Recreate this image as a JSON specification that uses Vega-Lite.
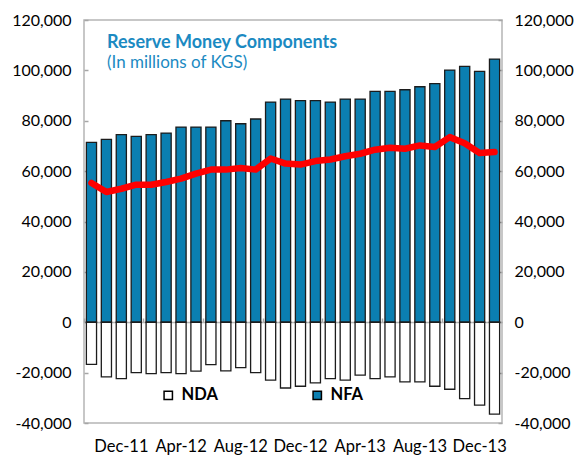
{
  "$schema": "https://vega.github.io/schema/vega-lite/v6.json",
  "width": 418,
  "height": 403,
  "autosize": {"type": "none"},
  "padding": {"left": 84, "top": 20, "right": 75, "bottom": 34},
  "background": "#ffffff",
  "config": {
    "font": "Lato",
    "view": {"stroke": "#b5b5b5", "strokeWidth": 1.5},
    "axis": {"labelFont": "Lato", "labelFontSize": 16, "labelColor": "#000000", "grid": false, "title": null}
  },
  "title": {
    "text": "Reserve Money Components",
    "subtitle": "(In millions of KGS)",
    "anchor": "start",
    "frame": "group",
    "orient": "top",
    "offset": -59,
    "dx": 23,
    "font": "Lato",
    "fontSize": 18,
    "fontWeight": "bold",
    "color": "#1b8ac2",
    "subtitleFont": "Lato",
    "subtitleFontSize": 17,
    "subtitleColor": "#1b8ac2",
    "subtitlePadding": 3
  },
  "datasets": {
    "bars": [
      {"month": "Dec-11", "series": "NFA", "value": 71400},
      {"month": "Jan-12", "series": "NFA", "value": 72600},
      {"month": "Feb-12", "series": "NFA", "value": 74500},
      {"month": "Mar-12", "series": "NFA", "value": 73800},
      {"month": "Apr-12", "series": "NFA", "value": 74500},
      {"month": "May-12", "series": "NFA", "value": 75100},
      {"month": "Jun-12", "series": "NFA", "value": 77500},
      {"month": "Jul-12", "series": "NFA", "value": 77500},
      {"month": "Aug-12", "series": "NFA", "value": 77500},
      {"month": "Sep-12", "series": "NFA", "value": 80000},
      {"month": "Oct-12", "series": "NFA", "value": 78800},
      {"month": "Nov-12", "series": "NFA", "value": 80700},
      {"month": "Dec-12", "series": "NFA", "value": 87400},
      {"month": "Jan-13", "series": "NFA", "value": 88600},
      {"month": "Feb-13", "series": "NFA", "value": 88000},
      {"month": "Mar-13", "series": "NFA", "value": 88000},
      {"month": "Apr-13", "series": "NFA", "value": 87400},
      {"month": "May-13", "series": "NFA", "value": 88600},
      {"month": "Jun-13", "series": "NFA", "value": 88600},
      {"month": "Jul-13", "series": "NFA", "value": 91700},
      {"month": "Aug-13", "series": "NFA", "value": 91700},
      {"month": "Sep-13", "series": "NFA", "value": 92300},
      {"month": "Oct-13", "series": "NFA", "value": 93500},
      {"month": "Nov-13", "series": "NFA", "value": 94700},
      {"month": "Dec-13", "series": "NFA", "value": 100100},
      {"month": "Jan-14", "series": "NFA", "value": 101600},
      {"month": "Feb-14", "series": "NFA", "value": 99600},
      {"month": "Mar-14", "series": "NFA", "value": 104500},
      {"month": "Dec-11", "series": "NDA", "value": -16700},
      {"month": "Jan-12", "series": "NDA", "value": -21700},
      {"month": "Feb-12", "series": "NDA", "value": -22400},
      {"month": "Mar-12", "series": "NDA", "value": -20000},
      {"month": "Apr-12", "series": "NDA", "value": -20400},
      {"month": "May-12", "series": "NDA", "value": -20000},
      {"month": "Jun-12", "series": "NDA", "value": -20400},
      {"month": "Jul-12", "series": "NDA", "value": -19400},
      {"month": "Aug-12", "series": "NDA", "value": -16800},
      {"month": "Sep-12", "series": "NDA", "value": -19300},
      {"month": "Oct-12", "series": "NDA", "value": -18000},
      {"month": "Nov-12", "series": "NDA", "value": -20000},
      {"month": "Dec-12", "series": "NDA", "value": -23000},
      {"month": "Jan-13", "series": "NDA", "value": -26100},
      {"month": "Feb-13", "series": "NDA", "value": -25400},
      {"month": "Mar-13", "series": "NDA", "value": -24100},
      {"month": "Apr-13", "series": "NDA", "value": -22400},
      {"month": "May-13", "series": "NDA", "value": -23000},
      {"month": "Jun-13", "series": "NDA", "value": -21000},
      {"month": "Jul-13", "series": "NDA", "value": -22400},
      {"month": "Aug-13", "series": "NDA", "value": -21700},
      {"month": "Sep-13", "series": "NDA", "value": -23700},
      {"month": "Oct-13", "series": "NDA", "value": -23700},
      {"month": "Nov-13", "series": "NDA", "value": -25400},
      {"month": "Dec-13", "series": "NDA", "value": -26600},
      {"month": "Jan-14", "series": "NDA", "value": -30300},
      {"month": "Feb-14", "series": "NDA", "value": -32900},
      {"month": "Mar-14", "series": "NDA", "value": -36500}
    ],
    "rm": [
      {"month": "Dec-11", "rm": 55300},
      {"month": "Jan-12", "rm": 51700},
      {"month": "Feb-12", "rm": 53000},
      {"month": "Mar-12", "rm": 54600},
      {"month": "Apr-12", "rm": 54600},
      {"month": "May-12", "rm": 55700},
      {"month": "Jun-12", "rm": 57000},
      {"month": "Jul-12", "rm": 59000},
      {"month": "Aug-12", "rm": 60600},
      {"month": "Sep-12", "rm": 60600},
      {"month": "Oct-12", "rm": 61200},
      {"month": "Nov-12", "rm": 60600},
      {"month": "Dec-12", "rm": 65000},
      {"month": "Jan-13", "rm": 63000},
      {"month": "Feb-13", "rm": 62600},
      {"month": "Mar-13", "rm": 64000},
      {"month": "Apr-13", "rm": 64600},
      {"month": "May-13", "rm": 65900},
      {"month": "Jun-13", "rm": 66900},
      {"month": "Jul-13", "rm": 68500},
      {"month": "Aug-13", "rm": 69300},
      {"month": "Sep-13", "rm": 68900},
      {"month": "Oct-13", "rm": 70200},
      {"month": "Nov-13", "rm": 69600},
      {"month": "Dec-13", "rm": 73500},
      {"month": "Jan-14", "rm": 71100},
      {"month": "Feb-14", "rm": 67200},
      {"month": "Mar-14", "rm": 67600}
    ]
  },
  "resolve": {"axis": {"x": "independent", "y": "independent"}},
  "layer": [
    {
      "data": {"name": "bars"},
      "mark": {"type": "bar", "width": {"band": 0.68}, "stroke": "#1c1c1c", "strokeWidth": 1.3},
      "encoding": {
        "x": {
          "field": "month",
          "type": "ordinal",
          "sort": null,
          "scale": {"paddingInner": 0, "paddingOuter": 0, "domain": ["Dec-11","Jan-12","Feb-12","Mar-12","Apr-12","May-12","Jun-12","Jul-12","Aug-12","Sep-12","Oct-12","Nov-12","Dec-12","Jan-13","Feb-13","Mar-13","Apr-13","May-13","Jun-13","Jul-13","Aug-13","Sep-13","Oct-13","Nov-13","Dec-13","Jan-14","Feb-14","Mar-14"]},
          "axis": {
            "orient": "bottom",
            "values": ["Dec-11","Apr-12","Aug-12","Dec-12","Apr-13","Aug-13","Dec-13"],
            "bandPosition": 0,
            "labelOffset": 29.9,
            "labelAngle": 0,
            "labelAlign": "center",
            "labelFontSize": 16.5,
            "labelPadding": 15,
            "labelOverlap": false,
            "labelFlush": false,
            "ticks": false,
            "domain": false
          }
        },
        "y": {
          "field": "value",
          "type": "quantitative",
          "stack": null,
          "scale": {"domain": [-40000, 120000], "nice": false, "zero": false},
          "axis": {
            "orient": "left",
            "values": [-40000,-20000,0,20000,40000,60000,80000,100000,120000],
            "labelExpr": "(datum.value < 0 ? '-' : '') + format(abs(datum.value), ',')",
            "tickSize": -4,
            "tickColor": "#a6a6a6",
            "tickWidth": 1.5,
            "labelPadding": 17,
            "domain": false
          }
        },
        "color": {
          "field": "series",
          "type": "nominal",
          "scale": {"domain": ["NDA", "NFA"], "range": ["#ffffff", "#0b7fb1"]},
          "legend": {
            "title": null,
            "orient": "none",
            "legendX": 76,
            "legendY": 367,
            "direction": "horizontal",
            "symbolType": "square",
            "symbolSize": 70,
            "symbolStrokeColor": "#000000",
            "symbolStrokeWidth": 1.5,
            "symbolOpacity": 1,
            "labelFont": "Lato",
            "labelFontSize": 16.5,
            "labelFontWeight": "bold",
            "labelColor": "#000000",
            "labelOffset": 5,
            "columnPadding": 91
          }
        }
      }
    },
    {
      "data": {"name": "rm"},
      "mark": {"type": "line", "color": "#ff0000", "strokeWidth": 6.5, "strokeJoin": "round", "strokeCap": "round"},
      "encoding": {
        "x": {
          "field": "month",
          "type": "ordinal",
          "sort": null,
          "axis": {
            "orient": "top",
            "offset": -302,
            "values": ["Dec-11","Apr-12","Aug-12","Dec-12","Apr-13","Aug-13","Dec-13"],
            "bandPosition": 0,
            "labels": false,
            "ticks": true,
            "tickSize": 4,
            "tickColor": "#a6a6a6",
            "tickWidth": 1.5,
            "domain": true,
            "domainColor": "#b5b5b5",
            "domainWidth": 1.5
          }
        },
        "y": {
          "field": "rm",
          "type": "quantitative",
          "axis": {
            "orient": "right",
            "values": [-40000,-20000,0,20000,40000,60000,80000,100000,120000],
            "labelExpr": "(datum.value < 0 ? '-' : '') + format(abs(datum.value), ',')",
            "tickSize": -4,
            "tickColor": "#a6a6a6",
            "tickWidth": 1.5,
            "labelPadding": 16,
            "domain": false
          }
        }
      }
    }
  ]
}
